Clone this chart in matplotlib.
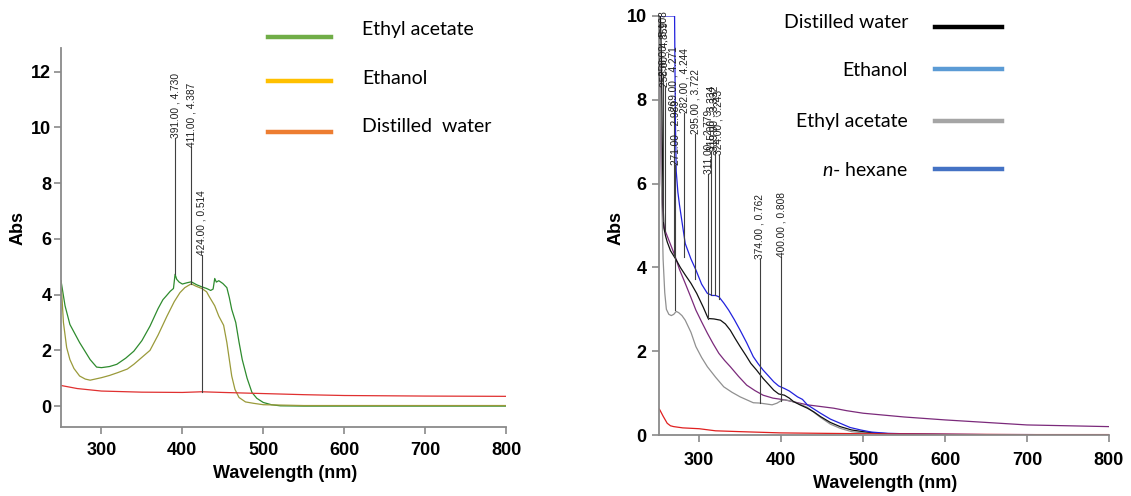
import matplotlib.pyplot as plt
from matplotlib.lines import Line2D

# ---- left panel data (nm, Abs) ----
ea_wl_L = [250, 255, 261, 273, 286, 294, 300, 310, 319, 330, 340, 350, 360, 370, 376, 380, 385, 389, 391,
           393, 396, 400, 405, 411, 418, 424, 430, 435, 438, 440, 442, 445, 450, 455, 458, 461, 466, 470,
           474, 480, 486, 492, 500, 510, 521, 550, 600, 700, 800]
ea_abs_L = [4.5, 3.6, 2.93, 2.28, 1.67, 1.4, 1.38, 1.42, 1.5, 1.72, 1.97, 2.35, 2.87, 3.5, 3.82, 3.95, 4.12, 4.22, 4.73,
            4.55, 4.45, 4.38, 4.42, 4.46, 4.35, 4.28, 4.22, 4.15, 4.2, 4.58, 4.45, 4.5, 4.4, 4.25, 3.9, 3.47, 3.0, 2.3,
            1.67, 1.0, 0.49, 0.28, 0.13, 0.05, 0.01, 0.0, 0.0, 0.0, 0.0]

et_wl_L = [250, 253, 257, 261, 266, 273, 280, 286, 300, 310, 320, 332, 340, 348, 360, 370, 381, 390, 397, 403,
           407, 411, 417, 424, 430, 433, 440, 445, 451, 455, 461, 465, 470, 478, 488, 500, 550, 800]
et_abs_L = [4.5, 3.0, 2.1, 1.67, 1.35, 1.08, 0.97, 0.93, 1.02, 1.1, 1.2, 1.33, 1.5, 1.7, 2.0, 2.55, 3.23, 3.75, 4.07, 4.25,
            4.32, 4.387, 4.3, 4.22, 4.1, 3.94, 3.6, 3.23, 2.9, 2.28, 1.08, 0.6, 0.31, 0.15, 0.1, 0.05, 0.02, 0.02]

dw_wl_L = [250, 270, 300, 350, 400, 424, 450, 500, 550, 600, 700, 800]
dw_abs_L = [0.74, 0.63, 0.54, 0.5, 0.49, 0.514, 0.49, 0.45, 0.41, 0.38, 0.36, 0.35]

peaks_L = [(391, 4.730, "391.00 , 4.730"), (411, 4.387, "411.00 , 4.387"), (424, 0.514, "424.00 , 0.514")]

# ---- right panel data ----
dw_wl_R = [250, 252, 254, 255, 256, 257, 259, 261, 265, 272, 277, 283, 290, 297, 305, 311, 318, 326, 332, 338,
           344, 350, 357, 363, 370, 378, 385, 391, 397, 404, 410, 415, 423, 432, 440, 448, 460, 472, 486, 500,
           520, 550, 600, 700, 800]
dw_abs_R = [10.5, 10.5, 9.0, 7.0, 5.5, 4.94, 4.75, 4.61, 4.4, 4.18, 4.0, 3.82, 3.62, 3.38, 3.05, 2.78, 2.77, 2.74, 2.65, 2.5,
            2.3, 2.11, 1.9, 1.71, 1.55, 1.35, 1.2, 1.07, 0.98, 0.95, 0.88, 0.8, 0.72, 0.64, 0.55, 0.44, 0.3, 0.2, 0.12, 0.08,
            0.04, 0.02, 0.01, 0.0, 0.0]

hx_wl_R = [250, 270, 271, 272, 274, 276, 283, 290, 296, 303, 310, 316, 320, 324, 330, 336, 343, 350, 358, 366,
           372, 378, 385, 391, 397, 404, 410, 420, 426, 432, 440, 448, 460, 472, 484, 497, 510, 530, 550, 600,
           650, 700, 800]
hx_abs_R = [10, 10, 7.5, 6.3, 5.8, 5.49, 4.57, 4.2, 3.94, 3.6, 3.38, 3.33, 3.33, 3.3, 3.15, 2.98, 2.75, 2.5, 2.2, 1.87,
            1.7, 1.55, 1.4, 1.27, 1.17, 1.11, 1.05, 0.91, 0.85, 0.72, 0.62, 0.52, 0.38, 0.28, 0.18, 0.12, 0.07, 0.04, 0.03, 0.02,
            0.01, 0.01, 0.0]

ea_wl_R = [250, 252, 254, 256, 258, 260, 263, 266, 269, 272, 275, 279, 283, 290, 296, 303, 310, 320, 330, 340,
           350, 358, 366, 374, 382, 389, 395, 400, 404, 410, 420, 432, 448, 460, 472, 486, 500, 520, 550, 600, 800]
ea_abs_R = [10.5, 9.0, 6.0, 4.2, 3.4, 3.0, 2.88, 2.85, 2.88, 2.95, 2.92, 2.85, 2.74, 2.45, 2.11, 1.85, 1.63, 1.38, 1.15, 1.02,
            0.91, 0.84, 0.77, 0.762, 0.74, 0.72, 0.76, 0.82, 0.84, 0.82, 0.76, 0.66, 0.42, 0.26, 0.16, 0.08, 0.05, 0.03, 0.01, 0.0, 0.0]

pu_wl_R = [250, 252, 254, 256, 258, 262, 266, 270, 276, 283, 290, 296, 303, 310, 317, 324, 331, 338, 348, 358,
           368, 378, 390, 404, 418, 432, 448, 464, 480, 500, 550, 600, 650, 700, 750, 800]
pu_abs_R = [10.5, 8.5, 6.0, 5.1, 4.9, 4.7, 4.5, 4.3, 3.95, 3.62, 3.28, 2.98, 2.7, 2.43, 2.18, 1.95, 1.78, 1.63, 1.4, 1.19,
            1.06, 0.95, 0.88, 0.84, 0.78, 0.72, 0.68, 0.64, 0.58, 0.52, 0.43, 0.36, 0.3, 0.24, 0.22, 0.2]

rd_wl_R = [250, 252, 256, 261, 265, 269, 280, 300, 320, 350, 400, 450, 500, 600, 700, 800]
rd_abs_R = [0.65, 0.6, 0.45, 0.28, 0.22, 0.2, 0.17, 0.15, 0.1, 0.08, 0.05, 0.04, 0.03, 0.02, 0.01, 0.01]

peaks_R = [(256, 5.108, "256.00 , 5.108"), (258, 4.859, "258.00 , 4.859"),
           (269, 4.271, "269.00 , 4.271"), (271, 2.989, "271.00 , 2.989"),
           (282, 4.244, "282.00 , 4.244"), (295, 3.722, "295.00 , 3.722"),
           (311, 2.779, "311.00 , 2.779"), (315, 3.334, "315.00 , 3.334"),
           (319, 3.332, "319.00 , 3.332"), (324, 3.243, "324.00 , 3.243"),
           (374, 0.762, "374.00 , 0.762"), (400, 0.808, "400.00 , 0.808")]

legend_L = ["Ethyl acetate", "Ethanol", "Distilled  water"]
legend_L_colors = ["#70ad47", "#ffc000", "#ed7d31"]
legend_R = ["Distilled water", "Ethanol", "Ethyl acetate", "$n$- hexane"]
legend_R_colors = ["#000000", "#5b9bd5", "#a5a5a5", "#4472c4"]

W, H = 1131, 496
AXIS_FONT = ["Liberation Sans Narrow", "Liberation Sans", "DejaVu Sans"]
LEG_FONT = ["Lato", "DejaVu Sans"]

plt.rcParams['mathtext.fontset'] = 'custom'
plt.rcParams['mathtext.it'] = 'Lato:italic'
plt.rcParams['mathtext.rm'] = 'Lato'


def fx(px):
    return px / W


def fy(py):
    return 1 - py / H


def style_axes(ax, xpad, ypad):
    for s in ['top', 'right']:
        ax.spines[s].set_visible(False)
    for s in ['left', 'bottom']:
        ax.spines[s].set_color('#8a8a8a')
        ax.spines[s].set_linewidth(1.3)
    ax.tick_params(direction='out', length=5, width=1.2, color='#8a8a8a')
    ax.tick_params(axis='x', pad=xpad)
    ax.tick_params(axis='y', pad=ypad)
    ax.set_xticks([300, 400, 500, 600, 700, 800])
    for lab in ax.get_xticklabels() + ax.get_yticklabels():
        lab.set_fontfamily(AXIS_FONT)
        lab.set_fontweight('bold')
        lab.set_fontsize(13)


def add_peaks(ax, peaks, offset):
    for x, v, txt in peaks:
        ax.plot([x, x], [v, v + offset], color='#404040', lw=0.8)
        ax.text(x, v + offset, txt, rotation=90, ha='center', va='bottom',
                fontsize=7.3, family=["Liberation Sans", "DejaVu Sans"], color='#202020')


fig = plt.figure(figsize=(W / 100, H / 100), dpi=100)

# left panel
ax1 = fig.add_axes([fx(61), fy(427), (506 - 61) / W, (427 - 48) / H])
ax1.plot(ea_wl_L, ea_abs_L, color='#2e8b2e', lw=0.9)
ax1.plot(et_wl_L, et_abs_L, color='#9a9a3a', lw=0.9)
ax1.plot(dw_wl_L, dw_abs_L, color='#e03030', lw=0.9)
add_peaks(ax1, peaks_L, 4.9)
ax1.set_xlim(250, 800)
ax1.set_ylim(-0.75, 12.85)
ax1.set_yticks([0, 2, 4, 6, 8, 10, 12])
style_axes(ax1, 6, 2)

# right panel
ax2 = fig.add_axes([fx(659), fy(435), (1109 - 659) / W, (435 - 16) / H])
ax2.plot(pu_wl_R, pu_abs_R, color='#7b2a7b', lw=0.9)
ax2.plot(ea_wl_R, ea_abs_R, color='#909090', lw=0.9)
ax2.plot(dw_wl_R, dw_abs_R, color='#111111', lw=0.9)
ax2.plot(hx_wl_R, hx_abs_R, color='#2222dd', lw=0.9)
ax2.plot(rd_wl_R, rd_abs_R, color='#e02020', lw=0.9)
add_peaks(ax2, peaks_R, 3.45)
ax2.set_xlim(251, 800)
ax2.set_ylim(0, 10)
ax2.set_yticks([0, 2, 4, 6, 8, 10])
style_axes(ax2, 7, 4)

# axis titles
lab_kw = dict(fontsize=13, fontweight='bold', family=AXIS_FONT)
fig.text(fx(18), fy(228), "Abs", rotation=90, ha='center', va='center', **lab_kw)
fig.text(fx(285), fy(473), "Wavelength (nm)", ha='center', va='center', **lab_kw)
fig.text(fx(616), fy(228), "Abs", rotation=90, ha='center', va='center', **lab_kw)
fig.text(fx(885), fy(484), "Wavelength (nm)", ha='center', va='center', **lab_kw)

# left legend
for i, (name, col) in enumerate(zip(legend_L, legend_L_colors)):
    ly = [37, 81, 132][i]
    ty = [29, 79, 127][i]
    fig.add_artist(Line2D([fx(268), fx(331)], [fy(ly), fy(ly)], color=col, lw=3.2))
    fig.text(fx(362), fy(ty), name, ha='left', va='center', fontsize=14, family=LEG_FONT)

# right legend
for i, (name, col) in enumerate(zip(legend_R, legend_R_colors)):
    ly = [27, 69, 121, 169][i]
    ty = [22, 70, 122, 170][i]
    fig.add_artist(Line2D([fx(935), fx(1002)], [fy(ly), fy(ly)], color=col, lw=3.2))
    fig.text(fx(908), fy(ty), name, ha='right', va='center', fontsize=14, family=LEG_FONT)

fig.savefig("out.png", dpi=100)
